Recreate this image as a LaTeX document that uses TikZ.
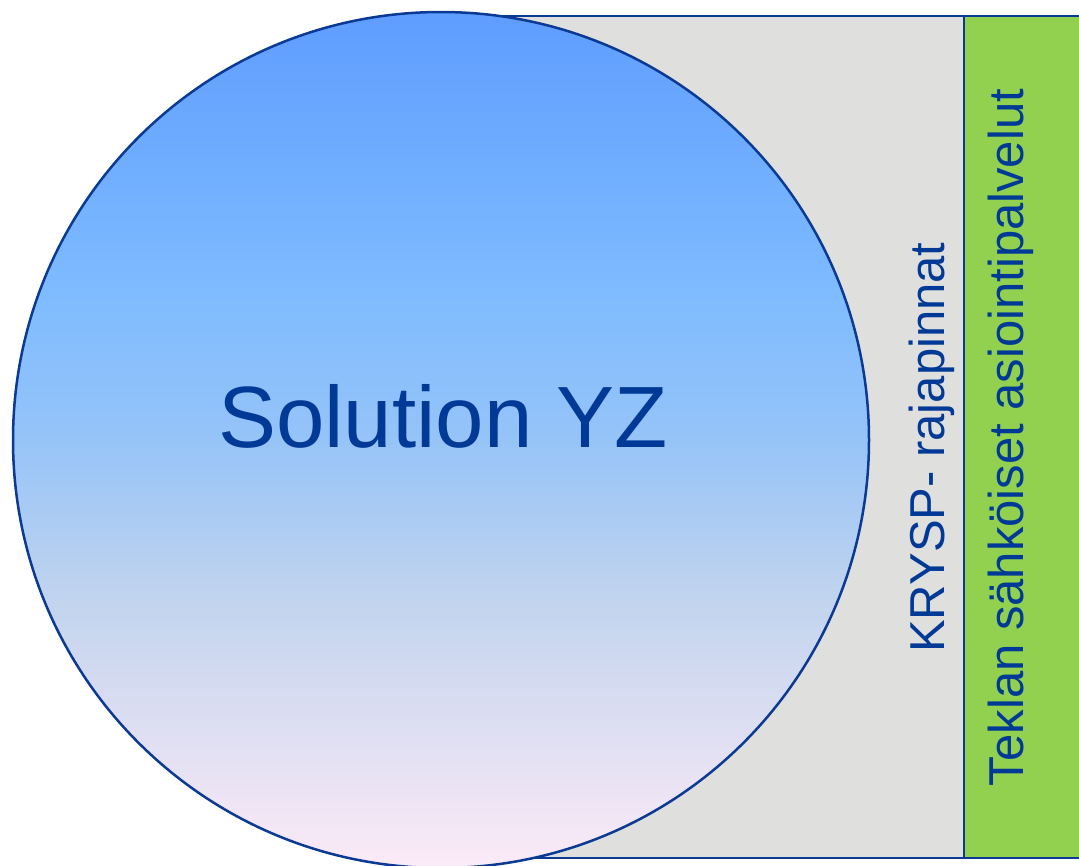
\documentclass[tikz,border=0pt]{standalone}
\usepackage{fontspec}
\setmainfont{Liberation Sans}
\usetikzlibrary{positioning}
\definecolor{edgeblue}{HTML}{0B3A94}
\definecolor{textblue}{HTML}{003A96}
\definecolor{panelgrey}{HTML}{DFDFDD}
\definecolor{panelgreen}{HTML}{92D050}
\definecolor{topblue}{HTML}{5E9DFF}
\definecolor{skyblue}{HTML}{80BCFF}
\definecolor{paleblue}{HTML}{94C3F8}
\definecolor{greyblue}{HTML}{C2D4EE}
\definecolor{pinkbot}{HTML}{FCEAF7}
\pgfdeclareverticalshading{solshade}{100bp}{color(0bp)=(pinkbot); color(25bp)=(pinkbot); color(40.6bp)=(greyblue); color(50.5bp)=(paleblue); color(58bp)=(skyblue); color(75bp)=(topblue); color(100bp)=(topblue)}
\tikzset{
    % Define style for the panels
    panel/.style={
           draw=edgeblue,
           line width=2.5pt},
    % Define style for the texts
    label/.style={
           text=textblue,
           inner sep=0pt}
}
\begin{document}
\begin{tikzpicture}[x=1pt,y=-1pt]
\useasboundingbox (0,0) rectangle (1079,865);

\draw[panel, fill=panelgrey] (441,16) rectangle (964,858);
\draw[panel, fill=panelgreen] (964,16) rectangle (1085,858);

\coordinate (c) at (441,440);
\draw[edgeblue, line width=2.5pt, shading=solshade] (c) circle [radius=428pt];

\node[label, anchor=base, font=\fontsize{87}{100}\selectfont] (sol) at (443,447) {Solution YZ};
\node[label, anchor=base, rotate=90, font=\fontsize{49}{58}\selectfont] (krysp) at (944,447.5) {KRYSP- rajapinnat};
\node[label, anchor=base, rotate=90, font=\fontsize{49}{58}\selectfont] (teklan) at (1023,437.5) {Teklan sähköiset asiointipalvelut};

\end{tikzpicture}
\end{document}
